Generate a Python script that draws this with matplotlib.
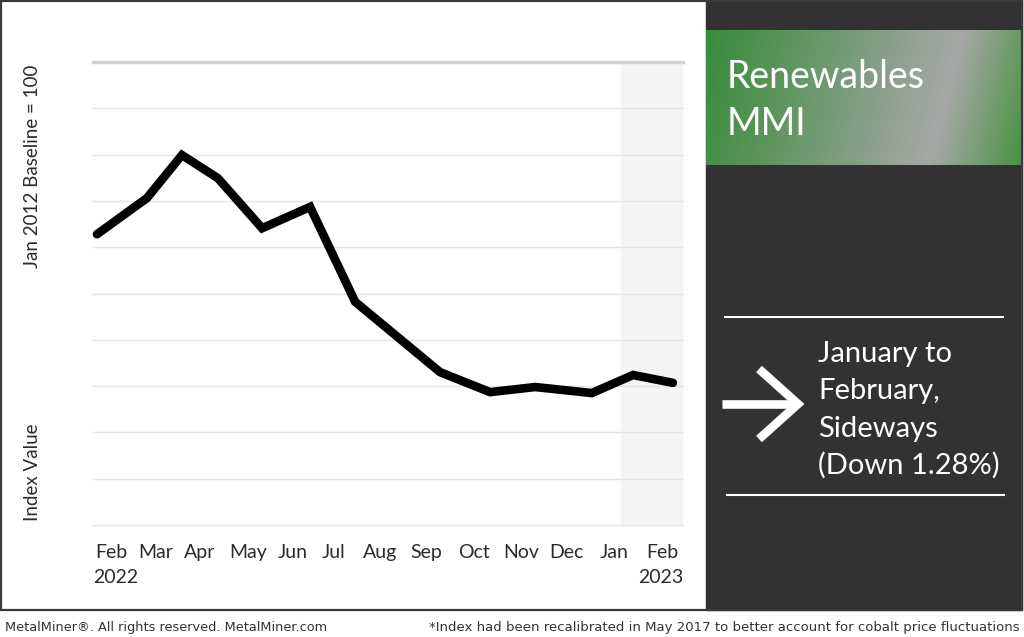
import numpy as np
import matplotlib.pyplot as plt
from matplotlib.colors import to_rgb

# Month positions (0 = Feb 2022, 12 = Feb 2023)
x_pos = [0.0, 1.04, 1.77, 2.52, 3.44, 4.44, 5.38, 7.15, 8.19, 9.13, 10.31, 11.17, 12.0]
# Index values in grid units (0 = bottom grid line, 10 = top grid line)
index_values = [6.28, 7.06, 7.99, 7.49, 6.41, 6.87, 4.82, 3.30, 2.87, 2.98, 2.85, 3.24, 3.07]

month_labels = ['Feb', 'Mar', 'Apr', 'May', 'Jun', 'Jul', 'Aug', 'Sep', 'Oct',
                'Nov', 'Dec', 'Jan', 'Feb']
label_pos = [0.29, 1.23, 2.14, 3.15, 4.08, 4.94, 5.90, 6.87, 7.85, 8.83, 9.79, 10.77, 11.79]

title_lines = ['Renewables', 'MMI']
trend_lines = ['January to', 'February,', 'Sideways', '(Down 1.28%)']

W, H = 1024, 637
fig = plt.figure(figsize=(W / 100, H / 100), dpi=100)
fig.patch.set_facecolor('white')

# decoration layer in pixel coordinates
deco = fig.add_axes([0, 0, 1, 1])
deco.axis('off')

# dark side panel
deco.add_patch(plt.Rectangle((706, 0), 316, 610, color='#333134', zorder=1))

# gradient banner (green -> grey sheen -> green, slanted)
gx = np.linspace(706, 1022, 320)
gy = np.linspace(30, 165, 140)
XX, YY = np.meshgrid(gx, gy)
s = XX + 0.245 * (YY - 30) - 963
green_l = np.array(to_rgb('#3a8c3c'))
green_r = np.array(to_rgb('#4f9448'))
gray = np.array(to_rgb('#a7a8a7'))
w_left = np.clip(1 + s / 255, 0, 1) ** 1.05
w_right = np.clip(1 - s / 85, 0, 1)
img = np.where(s[..., None] < 0,
               green_l * (1 - w_left[..., None]) + gray * w_left[..., None],
               green_r * (1 - w_right[..., None]) + gray * w_right[..., None])
deco.imshow(img, extent=(706, 1022, 165, 30), aspect='auto', zorder=2)
deco.set_xlim(0, W)
deco.set_ylim(H, 0)

# outer border
deco.add_patch(plt.Rectangle((1, 1), 1021, 609, fill=False, ec='#3a3a3a', lw=1.6, zorder=5))

for line, base in zip(title_lines, [88, 135]):
    deco.text(727, base, line, color='white', fontsize=27, family='Lato',
              va='baseline', ha='left', zorder=6)

# white rules and arrow
deco.plot([725, 1003], [317, 317], color='white', lw=1.5, zorder=6)
deco.plot([727, 1004], [495, 495], color='white', lw=1.5, zorder=6)
deco.plot([722, 797], [404, 404], color='white', lw=6.2, solid_capstyle='butt', zorder=6)
deco.plot([759, 798, 759], [369, 404, 439], color='white', lw=6.2,
          solid_joinstyle='miter', solid_capstyle='butt', zorder=6)
for line, base in zip(trend_lines, [362, 399, 437, 474]):
    deco.text(818, base, line, color='white', fontsize=21, family='Lato',
              va='baseline', ha='left', zorder=6)

# y-axis labels
deco.text(33, 166, 'Jan 2012 Baseline = 100', rotation=90, fontsize=13.5,
          family='Lato', color='#2b2b2b', ha='center', va='center')
deco.text(33, 472, 'Index Value', rotation=90, fontsize=13.5,
          family='Lato', color='#2b2b2b', ha='center', va='center')

# footer
deco.text(5, 628, 'MetalMiner\u00ae. All rights reserved. MetalMiner.com',
          fontsize=9.3, family='DejaVu Sans', color='#333333', va='center', ha='left')
deco.text(1020, 628, '*Index had been recalibrated in May 2017 to better account for cobalt price fluctuations',
          fontsize=9.5, family='DejaVu Sans', color='#333333', va='center', ha='right')

# main chart
left, right, top, bottom = 93, 683, 62, 525
ax = fig.add_axes([left / W, 1 - bottom / H, (right - left) / W, (bottom - top) / H])
ax.set_facecolor('none')
ax.set_xlim(-0.083, 12.21)
ax.set_ylim(0, 10)
for sp in ax.spines.values():
    sp.set_visible(False)
ax.set_xticks([])
ax.set_yticks([])

ax.axvspan(10.92, 12.21, color='#f3f4f4', zorder=0)
for g in range(11):
    if g == 10:
        ax.axhline(g, color='#d2d2d2', lw=2.5, zorder=1, clip_on=False)
    else:
        ax.axhline(g, color='#e4e4e4', lw=1.0, zorder=1, clip_on=False)

ax.plot(x_pos, index_values, color='black', lw=6.2, solid_joinstyle='miter',
        solid_capstyle='round', zorder=3, clip_on=False)

for lab, p in zip(month_labels, label_pos):
    ax.text(p, -0.6, lab, ha='center', va='center', fontsize=14, family='Lato',
            color='#2b2b2b', clip_on=False)
ax.text(-0.083, -1.13, '2022', ha='left', va='center', fontsize=14, family='Lato',
        color='#2b2b2b', clip_on=False)
ax.text(12.21, -1.13, '2023', ha='right', va='center', fontsize=14, family='Lato',
        color='#2b2b2b', clip_on=False)

fig.savefig('out.png', dpi=100)
